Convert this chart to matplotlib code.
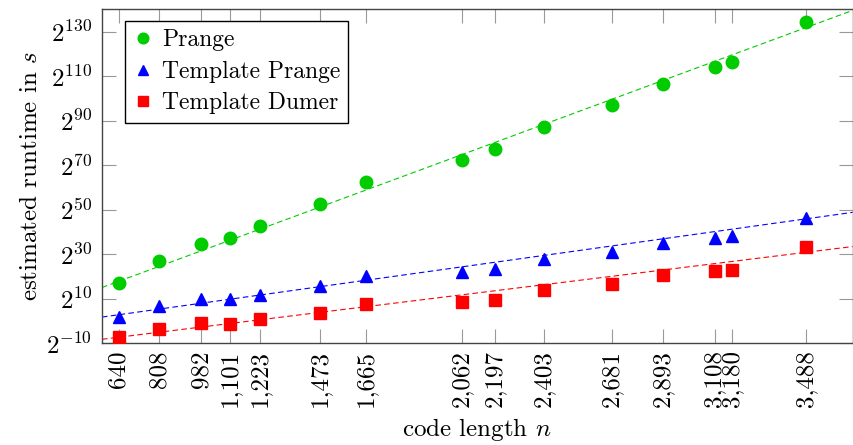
import matplotlib
matplotlib.use("Agg")
import matplotlib.pyplot as plt
import numpy as np
from matplotlib.ticker import FixedLocator, FuncFormatter, NullLocator

plt.rcParams['font.family'] = ['cmr10', 'DejaVu Serif']
plt.rcParams['mathtext.fontset'] = 'cm'
plt.rcParams['axes.formatter.use_mathtext'] = True

# code lengths n
code_length = [640, 808, 982, 1101, 1223, 1473, 1665, 2062, 2197,
               2403, 2681, 2893, 3108, 3180, 3488]

# log2 of estimated runtime in seconds
prange_log2 = [17.2, 27.1, 34.7, 37.4, 42.5, 52.4, 62.6, 72.5, 77.4,
               87.1, 96.9, 106.6, 114.1, 116.5, 134.3]
tmpl_prange_log2 = [1.9, 6.5, 9.7, 9.8, 11.8, 15.8, 20.3, 22.0, 23.5,
                    27.7, 31.0, 35.0, 37.2, 38.1, 46.1]
tmpl_dumer_log2 = [-7.1, -3.8, -1.1, -1.2, 0.7, 3.7, 7.6, 8.7, 9.6,
                   13.9, 16.6, 20.5, 22.3, 22.7, 33.4]

# linear fits of log2(runtime) = slope * n + intercept
fit_slope = [0.04006, 0.01514, 0.01341]
fit_intercept = [-7.83, -6.93, -15.94]

labels = ["Prange", "Template Prange", "Template Dumer"]
colors = ["#00cc00", "#0000ff", "#ff0000"]
markers = ["o", "^", "s"]
series = [prange_log2, tmpl_prange_log2, tmpl_dumer_log2]

fig = plt.figure(figsize=(8.54, 4.45), dpi=100)
ax = fig.add_axes([0.1194, 0.229, 0.879, 0.7497])

xmin, xmax = 570, 3680
n_line = np.linspace(xmin, xmax, 200)
handles = []
for ys, slope, icpt, c, m, lab in zip(series, fit_slope, fit_intercept,
                                      colors, markers, labels):
    ax.plot(n_line, 2.0 ** (slope * n_line + icpt), color=c, lw=0.8,
            dashes=(5, 3), zorder=2)
    ms = 9 if m == "o" else 8
    h, = ax.plot(code_length, 2.0 ** np.array(ys), linestyle="none",
                 marker=m, color=c, markersize=ms, zorder=3, label=lab)
    handles.append(h)

ax.set_yscale("log", base=2)
ax.set_xlim(xmin, xmax)
ax.set_ylim(2.0 ** -10, 2.0 ** 140)

ax.xaxis.set_major_locator(FixedLocator(code_length))
ax.xaxis.set_major_formatter(FuncFormatter(lambda v, p: f"{int(round(v)):,}"))
ax.xaxis.set_minor_locator(NullLocator())
yt = [2.0 ** k for k in range(-10, 131, 20)]
ax.yaxis.set_major_locator(FixedLocator(yt))
ax.yaxis.set_major_formatter(
    FuncFormatter(lambda v, p: rf"$2^{{{int(round(np.log2(v)))}}}$"))
ax.yaxis.set_minor_locator(NullLocator())

ax.tick_params(axis="both", direction="in", length=10, width=0.8,
               color="#999999", top=True, right=True, labelsize=18)
ax.tick_params(axis="x", labelrotation=90, pad=5)
ax.tick_params(axis="y", pad=7)
for s in ax.spines.values():
    s.set_color("#444444")
    s.set_linewidth(1.0)

ax.set_xlabel("code length $n$", fontsize=18, labelpad=6)
ax.set_ylabel("estimated runtime in $s$", fontsize=18, labelpad=3)

leg = ax.legend(handles=handles, loc="upper left",
                bbox_to_anchor=(0.031, 0.966), fontsize=17, frameon=True,
                fancybox=False, edgecolor="black", framealpha=1,
                handlelength=0.8, handletextpad=0.4, borderpad=0.35,
                labelspacing=0.4, borderaxespad=0, markerscale=0.85)
leg.get_frame().set_linewidth(1.0)

fig.savefig("out.png", dpi=100)
